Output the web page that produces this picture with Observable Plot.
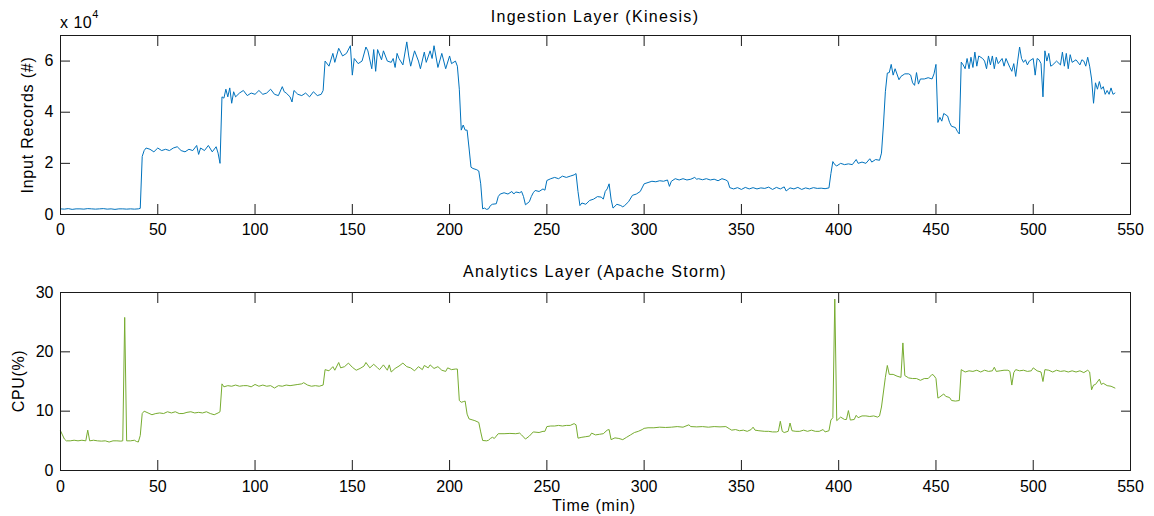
<!DOCTYPE html>
<html><head><meta charset="utf-8">
<script src="https://cdn.jsdelivr.net/npm/d3@7"></script>
<script src="https://cdn.jsdelivr.net/npm/@observablehq/plot@0.6"></script>
<style>body{margin:0;background:#fff}#chart svg{display:block}</style>
</head><body><div id="chart"></div>
<script>
// Time (min) vs input records for the ingestion layer
const ingestion = [[0,2200],[2,2100],[4,2300],[6,2000],[8,2200],[10,2200],[12,2100],[14,2300],[16,2200],[18,2100],[20,2200],[22,2300],[24,2100],[26,2200],[28,2000],[30,2200],[32,2200],[34,2100],[36,2200],[38,2100],[40,2200],[41,2400],[42,22700],[43,25000],[44,26000],[46,25500],[48,24500],[50,26000],[52,25000],[54,25500],[56,25000],[58,26000],[60,26500],[62,25000],[64,24500],[66,25500],[68,25000],[70,27000],[71,23500],[72,26000],[74,25000],[76,27000],[78,24500],[80,26500],[81,24000],[82,20000],[83,46000],[84,45500],[85,49000],[86,46000],[87,49500],[88,43500],[89,48000],[90,46000],[92,47500],[94,48500],[96,46500],[98,47500],[100,47000],[102,48500],[104,47000],[106,47500],[108,49000],[110,47000],[112,46500],[114,50000],[115,48000],[116,47500],[118,46000],[119,44000],[120,48500],[122,47000],[124,46500],[126,47500],[128,46000],[130,48000],[132,46500],[134,47000],[135,48500],[136,60000],[138,58000],[140,63000],[141,59500],[143,65000],[145,62000],[147,63000],[149,66000],[150,54500],[151,61000],[153,59000],[155,60000],[157,65500],[158,64000],[160,57000],[161,64500],[162,56000],[163,64500],[165,60500],[166,64000],[168,60000],[170,59500],[171,61000],[172,57500],[173,63000],[174,61000],[176,58500],[178,67500],[179,62000],[180,58000],[182,64000],[184,60000],[185,57000],[187,63500],[188,59500],[190,64000],[191,61000],[192,66000],[194,57500],[196,63000],[198,57000],[200,62000],[201,59000],[203,60000],[204,58000],[205,49000],[206,33000],[207,35000],[208,33000],[209,33000],[210,26000],[211,18500],[212,18000],[214,17500],[215,17000],[216,12000],[217,2200],[218,2500],[219,2000],[220,2200],[221,3500],[222,4000],[224,4200],[225,7000],[226,8000],[228,8500],[230,8000],[232,9000],[233,8000],[234,8800],[236,8500],[237,9000],[238,7000],[239,3800],[241,5000],[242,7000],[243,8500],[244,9400],[246,9000],[248,10000],[249,9500],[250,13300],[252,14000],[254,14500],[256,14000],[258,15000],[260,14500],[262,15000],[264,15500],[265,16000],[266,9000],[267,3500],[268,4500],[270,4000],[272,5500],[274,6000],[276,7000],[278,6800],[279,6000],[280,9000],[281,10000],[282,12000],[283,6000],[284,2500],[286,4000],[288,3500],[289,3000],[290,3500],[292,5000],[294,7500],[296,8000],[298,9000],[300,12000],[302,12500],[304,13000],[306,12800],[308,13200],[310,13000],[312,13500],[313,11000],[314,13000],[316,14000],[318,13500],[320,14000],[322,13500],[324,13800],[326,14500],[327,13800],[328,14000],[330,13600],[332,14000],[334,13500],[336,13800],[338,13200],[340,14000],[342,13500],[343,13000],[344,10500],[346,10000],[348,10500],[350,9800],[352,10600],[354,10000],[356,10500],[358,10000],[360,10400],[362,10200],[364,10700],[366,9800],[368,10600],[370,10000],[372,10800],[373,9200],[375,10400],[377,10000],[379,10600],[381,9800],[383,10400],[385,10000],[387,10500],[389,10200],[391,10300],[393,10100],[395,10400],[396,16000],[397,20700],[398,19500],[399,19000],[401,20000],[403,19500],[405,19800],[407,19500],[409,21500],[410,20000],[412,20500],[414,20000],[416,21800],[417,20500],[419,21500],[421,21200],[422,24000],[423,35000],[424,48000],[425,55300],[426,55500],[427,58700],[428,54500],[429,57000],[431,52700],[432,54000],[434,55000],[436,55000],[437,54500],[438,51500],[439,50500],[440,55500],[441,51000],[442,53000],[444,53000],[446,53500],[448,53000],[449,55000],[450,58700],[451,36000],[452,38000],[453,36500],[454,39500],[456,38500],[457,36000],[458,34500],[460,34000],[461,32500],[462,31500],[463,59600],[464,58500],[465,57000],[466,61000],[467,57000],[468,61500],[469,57500],[470,63500],[471,58000],[472,62000],[474,61000],[475,60000],[476,57000],[477,62000],[478,58500],[479,62000],[480,57000],[481,61500],[482,59000],[484,61000],[485,58000],[486,61000],[488,57500],[489,56000],[490,59000],[491,54000],[492,60000],[493,65500],[494,61000],[495,59500],[496,60500],[497,58500],[498,60000],[500,61000],[501,54500],[502,61000],[503,60500],[504,59000],[505,46000],[506,64000],[507,60000],[508,63000],[509,58000],[510,58500],[512,60000],[514,58500],[515,63500],[516,58000],[517,63000],[518,57000],[519,62500],[520,59500],[522,60500],[524,58500],[525,60500],[526,60000],[527,58000],[528,61500],[529,58000],[530,53000],[531,43500],[532,51500],[533,49000],[534,52000],[535,49000],[536,50000],[537,47000],[538,48500],[539,47000],[540,49500],[541,47000],[542,47500]];

// Time (min) vs CPU (%) for the analytics layer
const cpu = [[0,6.7],[1,6.0],[2,5.3],[3,5.0],[5,5.0],[7,5.1],[9,5.0],[11,5.1],[13,5.0],[14,6.8],[15,5.0],[17,5.1],[19,5.0],[21,4.95],[23,5.0],[25,4.8],[27,5.0],[29,5.0],[31,4.95],[32,5.0],[33,25.8],[34,5.0],[36,5.0],[38,5.1],[39,4.9],[40,4.8],[41,5.9],[42,9.6],[43,10.0],[45,9.7],[47,9.4],[49,9.6],[51,9.7],[53,9.6],[55,9.9],[57,9.7],[59,9.9],[61,9.6],[63,9.6],[65,9.8],[67,9.9],[69,9.7],[71,9.8],[73,9.7],[75,9.9],[77,9.6],[79,9.4],[81,9.7],[82,9.9],[83,14.6],[84,14.1],[86,14.3],[88,14.2],[90,14.4],[92,14.2],[94,14.3],[96,14.3],[98,14.1],[100,14.5],[102,14.2],[104,14.4],[106,14.2],[108,14.3],[110,13.9],[112,14.3],[114,14.2],[116,14.4],[118,14.3],[120,14.4],[122,14.5],[124,14.6],[125,14.8],[127,14.4],[129,14.2],[131,14.3],[133,14.2],[135,14.4],[136,17.0],[138,16.8],[140,17.5],[141,16.9],[143,18.2],[144,17.3],[146,17.5],[148,18.1],[150,17.4],[152,16.9],[154,17.2],[156,17.6],[157,18.2],[159,17.3],[161,17.9],[163,17.3],[164,17.0],[166,17.8],[168,16.9],[169,17.8],[170,16.6],[172,17.2],[174,17.6],[176,18.1],[178,17.5],[180,17.3],[182,16.8],[184,17.5],[186,17.0],[187,17.7],[189,17.3],[190,17.8],[192,17.2],[194,17.5],[196,16.9],[198,16.7],[199,17.3],[201,17.0],[203,17.1],[204,17.1],[205,11.8],[206,11.5],[207,11.6],[208,11.7],[209,9.5],[210,8.7],[212,8.5],[213,8.4],[215,8.1],[216,6.5],[217,5.06],[219,5.0],[220,5.1],[221,5.4],[222,5.6],[223,5.4],[224,5.8],[225,6.2],[228,6.2],[231,6.25],[234,6.2],[236,6.3],[237,6.0],[239,5.3],[241,5.8],[243,6.5],[246,6.4],[248,6.6],[249,6.6],[250,7.4],[252,7.5],[254,7.5],[256,7.6],[258,7.5],[260,7.6],[262,7.6],[264,7.9],[265,7.7],[266,5.45],[268,5.6],[270,5.7],[272,5.8],[273,6.3],[275,6.0],[277,6.1],[279,6.2],[281,6.8],[282,6.9],[283,5.2],[285,5.5],[287,5.4],[289,5.2],[291,5.6],[293,6.0],[295,6.4],[297,6.6],[299,6.9],[300,7.1],[302,7.2],[305,7.2],[308,7.3],[311,7.25],[314,7.3],[317,7.4],[320,7.3],[323,7.7],[324,7.4],[327,7.35],[330,7.4],[333,7.3],[336,7.4],[339,7.35],[342,7.4],[344,7.0],[345,6.8],[347,6.9],[349,6.7],[351,6.8],[353,6.6],[355,6.9],[356,7.3],[357,6.8],[359,6.7],[362,6.6],[364,6.6],[366,6.5],[368,6.5],[369,6.6],[370,8.3],[371,6.6],[372,6.4],[374,6.6],[375,8.0],[376,6.7],[378,6.6],[380,6.6],[382,6.8],[384,6.6],[386,6.8],[388,6.6],[390,6.6],[392,6.9],[393,6.5],[395,6.7],[396,8.5],[397,8.9],[398,28.9],[399,8.4],[401,9.0],[403,8.6],[404,8.6],[405,10.1],[406,8.5],[408,8.6],[409,9.3],[410,8.9],[412,9.2],[414,9.2],[416,9.1],[418,9.2],[420,9.0],[421,9.2],[422,10.7],[424,15.7],[425,17.7],[426,16.2],[428,16.2],[430,15.9],[432,15.7],[433,21.5],[434,16.0],[436,15.6],[438,15.5],[440,15.5],[442,15.2],[444,15.5],[446,15.5],[448,16.2],[449,16.0],[450,15.5],[451,12.2],[452,12.4],[454,12.9],[455,12.5],[457,12.3],[458,11.8],[460,11.7],[462,11.8],[463,17.0],[465,16.6],[467,16.8],[469,16.7],[471,16.9],[473,16.6],[475,16.9],[477,16.7],[479,16.8],[480,17.4],[481,16.7],[483,16.8],[485,16.9],[487,16.9],[488,16.7],[489,14.4],[490,16.5],[491,17.0],[493,16.8],[495,16.9],[497,16.7],[499,16.8],[500,17.3],[502,16.8],[504,16.6],[505,15.0],[506,17.0],[508,16.9],[510,16.6],[512,16.9],[514,16.7],[516,16.8],[518,16.6],[520,16.8],[522,16.6],[524,16.8],[526,16.5],[528,16.9],[529,16.6],[530,13.6],[531,14.4],[532,14.5],[534,15.4],[535,14.5],[536,14.7],[538,14.3],[540,14.2],[542,13.9]];

const xTicks = [0,50,100,150,200,250,300,350,400,450,500,550];
const ingestTicks = [0,20000,40000,60000];
const cpuTicks = [0,10,20,30];

const FONT = "'Liberation Sans', Arial, Helvetica, sans-serif";

function panel({data, color, yDomain, yTicks, yFormat, height, marginTop, marginBottom, xPad}) {
  return Plot.plot({
    width: 1154, height, marginLeft: 60, marginRight: 24, marginTop, marginBottom,
    style: {fontFamily: FONT, fontSize: "16px", color: "#000", background: "#fff", overflow: "visible"},
    x: {domain: [0, 550]},
    y: {domain: yDomain},
    marks: [
      Plot.line(data, {x: d => d[0], y: d => d[1], stroke: color, strokeWidth: 1}),
      Plot.frame({stroke: "#1a1a1a", strokeWidth: 1}),
      Plot.axisX(xTicks, {anchor: "bottom", tickSize: -10, tickPadding: xPad, label: null, fontSize: 16, stroke: "#1a1a1a"}),
      Plot.axisX(xTicks, {anchor: "top", tickSize: -10, tickFormat: () => "", label: null, stroke: "#1a1a1a"}),
      Plot.axisY(yTicks, {anchor: "left", tickSize: -10, tickPadding: 17, tickFormat: yFormat, label: null, fontSize: 16, stroke: "#1a1a1a"}),
      Plot.axisY(yTicks, {anchor: "right", tickSize: -10, tickFormat: () => "", label: null, stroke: "#1a1a1a"})
    ]
  });
}

const top1 = panel({data: ingestion, color: "#0072BD", yDomain: [0, 70000], yTicks: ingestTicks, yFormat: d => d / 1e4,
  height: 250, marginTop: 35, marginBottom: 36, xPad: 19.5});
const bot = panel({data: cpu, color: "#77AC30", yDomain: [0, 30], yTicks: cpuTicks, yFormat: d => d,
  height: 266, marginTop: 42, marginBottom: 46, xPad: 20.5});

function addText(svg, txt, x, y, opts = {}) {
  const t = d3.select(svg).append("text")
    .attr("font-family", FONT).attr("font-size", opts.size || 16)
    .attr("fill", "#000").attr("text-anchor", opts.anchor || "middle")
    .attr("letter-spacing", opts.ls || 0)
    .attr("transform", `translate(${x},${y})` + (opts.rotate ? ` rotate(${opts.rotate})` : ""))
    .text(txt);
  return t;
}

addText(top1, "Ingestion Layer (Kinesis)", 595, 22, {ls: 1.3});
addText(top1, "Input Records (#)", 33, 125, {rotate: -90, ls: 0.8});
const mult = addText(top1, "x 10", 60, 28, {anchor: "start", ls: 0.5});
mult.append("tspan").attr("dy", -10).attr("font-size", 11).text("4");

addText(bot, "Analytics Layer (Apache Storm)", 595, 27, {ls: 1.3});
addText(bot, "CPU(%)", 24, 131, {rotate: -90, ls: 0.6});
addText(bot, "Time (min)", 594, 261, {ls: 0.8});

const chart = document.getElementById("chart");
chart.appendChild(top1);
chart.appendChild(bot);
</script></body></html>
